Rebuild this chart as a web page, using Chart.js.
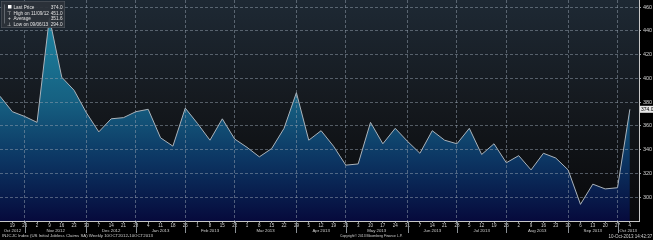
<!DOCTYPE html>
<html>
<head>
<meta charset="utf-8">
<script src="https://cdn.jsdelivr.net/npm/chart.js@4"></script>
<style>
html, body { margin: 0; padding: 0; background: #000; }
#wrap { position: relative; width: 653px; height: 240px; overflow: hidden; }
canvas { display: block; }
#legendBox {
    position: absolute; left: 1px; top: 1px; width: 126px; height: 52px;
    transform: scale(0.5); transform-origin: 0 0;
    background: rgba(44, 50, 57, 0.92); border: 1px solid #5a6068;
    font-family: "Liberation Sans", Arial, sans-serif; font-size: 9.4px; color: #e2e2e2;
}
#legendBox .row { position: absolute; left: 0; right: 0; height: 10px; line-height: 10px; white-space: nowrap; }
#legendBox .lb { position: absolute; left: 24px; }
#legendBox .val { position: absolute; right: 4px; }
#legendBox .ic { position: absolute; left: 11px; width: 9px; text-align: center; }
#legendBox .sq { position: absolute; left: 13px; top: 1px; width: 7px; height: 7px; background: #fff; }
#legendBox .bracket { position: absolute; left: 5px; top: 6px; width: 1px; height: 38px; background: #9aa0a6; }
.foot {
    position: absolute; white-space: nowrap; line-height: 10px; font-size: 10px;
    font-family: "Liberation Sans", Arial, sans-serif; color: #cfcfcf;
}
#footL { left: 2px; top: 233.8px; transform: scale(0.434); transform-origin: 0 0; }
#footC { left: 340px; top: 234.3px; transform: scale(0.34); transform-origin: 0 0; }
#footR { right: 1px; top: 233.8px; transform: scale(0.45); transform-origin: 100% 0; }
</style>
</head>
<body>
<div id="wrap">
<canvas id="claims-chart" width="653" height="240"></canvas>
<div id="legendBox">
    <div class="bracket"></div>
    <div class="row" style="top:5.6px"><span class="sq"></span><span class="lb">Last Price</span><span class="val">374.0</span></div>
    <div class="row" style="top:17.6px"><span class="ic">⊤</span><span class="lb">High on 11/09/12</span><span class="val">451.0</span></div>
    <div class="row" style="top:28.4px"><span class="ic">+</span><span class="lb">Average</span><span class="val">351.6</span></div>
    <div class="row" style="top:39.6px"><span class="ic">⊥</span><span class="lb">Low on 09/06/13</span><span class="val">294.0</span></div>
</div>
<div class="foot" id="footL">INJCJC Index (US Initial Jobless Claims SA) Weekly 10OCT2012-10OCT2013</div>
<div class="foot" id="footC">Copyright© 2013 Bloomberg Finance L.P.</div>
<div class="foot" id="footR">10-Oct-2013 14:42:37</div>
</div>
<script>
// weekly Fridays, 12 Oct 2012 .. 4 Oct 2013
const days = [12, 19, 26, 2, 9, 16, 23, 30, 7, 14, 21, 28, 4, 11, 18, 25, 1, 8, 15, 22,
    1, 8, 15, 22, 29, 5, 12, 19, 26, 3, 10, 17, 24, 31, 7, 14, 21, 28, 5, 12, 19, 26,
    2, 9, 16, 23, 30, 6, 13, 20, 27, 4];
const months = ["Oct 2012", "Nov 2012", "Dec 2012", "Jan 2013", "Feb 2013", "Mar 2013", "Apr 2013",
    "May 2013", "Jun 2013", "Jul 2013", "Aug 2013", "Sep 2013", "Oct 2013"];
const claims = [385, 372, 368, 363, 451, 401, 390, 371, 355, 366, 367, 372, 374, 350, 343, 375,
    362, 348, 366, 349, 342, 334, 341, 358, 388, 348, 356, 343, 327, 328, 363, 345, 358, 347,
    337, 356, 348, 345, 358, 336, 345, 329, 335, 323, 337, 333, 323, 294, 311, 307, 308, 374];
const yTicks = [300, 320, 340, 360, 380, 400, 420, 440, 460];

const X_MAX = 51.74;
const FONT = '"Liberation Sans", Arial, sans-serif';
const GRID = 'rgba(150,162,175,0.5)';

// last Friday of each month (where the day number drops next week)
const monthEnds = [];
for (let i = 0; i < days.length - 1; i++) {
    if (days[i + 1] < days[i]) monthEnds.push(i);
}
// month names sit halfway between the separators
const monthMid = months.map((m, k) => {
    const from = k === 0 ? 0 : monthEnds[k - 1];
    const to = k < monthEnds.length ? monthEnds[k] : X_MAX;
    return (from + to) / 2;
});

function noPad(s) {
    s.paddingTop = 0;
    s.paddingBottom = 0;
    s.paddingLeft = 0;
    s.paddingRight = 0;
}

const chartDecor = {
    id: 'chartDecor',
    beforeDraw(chart) {
        const { ctx, chartArea: a } = chart;
        ctx.save();
        ctx.fillStyle = '#000';
        ctx.fillRect(0, 0, chart.width, chart.height);
        const g = ctx.createLinearGradient(0, a.top, 0, a.bottom);
        g.addColorStop(0, '#1e2934');
        g.addColorStop(0.5, '#14181d');
        g.addColorStop(1, '#08080a');
        ctx.fillStyle = g;
        ctx.fillRect(a.left, a.top, a.right - a.left, a.bottom - a.top);
        ctx.restore();
    },
    afterDraw(chart) {
        const { ctx, chartArea: a, scales } = chart;
        ctx.save();
        ctx.strokeStyle = '#8a9096';
        ctx.lineWidth = 1;
        monthEnds.forEach(i => {
            const x = Math.round(scales.x.getPixelForValue(i)) + 0.5;
            ctx.beginPath();
            ctx.moveTo(x, a.bottom);
            ctx.lineTo(x, a.bottom + 12);
            ctx.stroke();
        });
        // last value tag on the right axis
        const last = claims[claims.length - 1];
        const y = scales.y.getPixelForValue(last);
        ctx.fillStyle = '#e6e6e6';
        ctx.fillRect(a.right + 1, y - 3.5, chart.width - a.right - 1, 7);
        ctx.fillStyle = '#000';
        ctx.font = '5px ' + FONT;
        ctx.textBaseline = 'middle';
        ctx.fillText(last.toFixed(1), a.right + 2, y + 0.5);
        ctx.restore();
    }
};

new Chart(document.getElementById("claims-chart"), {
    type: 'line',
    data: {
        datasets: [
            {
                label: "INJCJC Index",
                data: claims.map((v, i) => ({ x: i, y: v })),
                borderColor: '#aab3bb',
                borderWidth: 1,
                pointRadius: 0,
                tension: 0,
                fill: 'start',
                backgroundColor: (c) => {
                    const a = c.chart.chartArea;
                    if (!a) return '#155f80';
                    const g = c.chart.ctx.createLinearGradient(0, a.top, 0, a.bottom);
                    g.addColorStop(0, '#1f8ca8');
                    g.addColorStop(0.45, '#166182');
                    g.addColorStop(0.72, '#0c3663');
                    g.addColorStop(1, '#060a3c');
                    return g;
                }
            }
        ]
    },
    options: {
        responsive: false,
        animation: false,
        devicePixelRatio: 1,
        layout: { padding: { left: 0, top: 0, right: 0, bottom: 6 } },
        plugins: {
            legend: { display: false },
            tooltip: { enabled: false }
        },
        scales: {
            x: {
                type: 'linear',
                position: 'bottom',
                weight: 0,
                min: 0,
                max: X_MAX,
                // first week sits on the left edge and has no label
                afterBuildTicks: s => { s.ticks = days.slice(1).map((d, i) => ({ value: i + 1 })); },
                afterFit: s => { s.height = 7; noPad(s); },
                ticks: {
                    autoSkip: false,
                    maxRotation: 0,
                    padding: 0,
                    color: '#d0d0d0',
                    font: { family: FONT, size: 4.5 },
                    callback: v => String(days[v])
                },
                grid: {
                    z: 1,
                    color: c => (c.tick && monthEnds.includes(c.tick.value)) ? GRID : 'rgba(0,0,0,0)',
                    tickColor: '#9aa0a6',
                    tickLength: 2
                },
                border: { z: 1, color: '#c8c8c8', dash: [3, 2] }
            },
            x2: {
                type: 'linear',
                position: 'bottom',
                weight: 1,
                min: 0,
                max: X_MAX,
                afterBuildTicks: s => { s.ticks = monthMid.map(v => ({ value: v })); },
                afterFit: s => { s.height = 6; noPad(s); },
                ticks: {
                    autoSkip: false,
                    maxRotation: 0,
                    padding: 0,
                    color: '#d0d0d0',
                    font: { family: FONT, size: 4.3 },
                    callback: (v, i) => months[i]
                },
                grid: { display: false, drawTicks: false },
                border: { display: false }
            },
            y: {
                position: 'right',
                min: 280,
                max: 466,
                afterBuildTicks: s => { s.ticks = yTicks.map(v => ({ value: v })); },
                afterFit: s => { s.width = 14; noPad(s); },
                ticks: {
                    padding: 2,
                    color: '#d0d0d0',
                    font: { family: FONT, size: 5.5 },
                    callback: v => String(v)
                },
                grid: {
                    z: 1,
                    color: GRID,
                    tickColor: '#9aa0a6',
                    tickLength: 2
                },
                border: { z: 1, color: '#c8c8c8', dash: [3, 2] }
            }
        }
    },
    plugins: [chartDecor]
});
</script>
</body>
</html>
